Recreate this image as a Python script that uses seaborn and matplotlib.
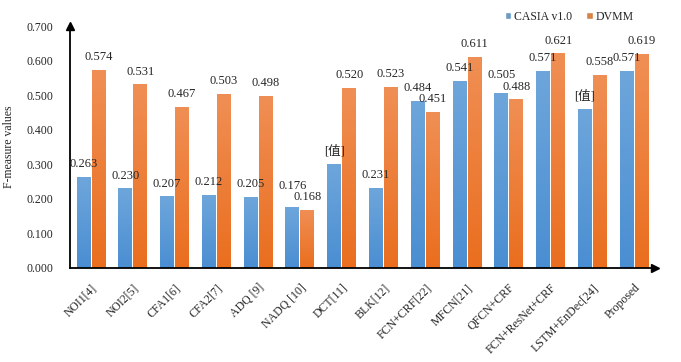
import numpy as np
import pandas as pd
import matplotlib
matplotlib.use("Agg")
import matplotlib.pyplot as plt
import seaborn as sns
from matplotlib.colors import LinearSegmentedColormap

methods = ["NOI1[4]", "NOI2[5]", "CFA1[6]", "CFA2[7]", "ADQ [9]", "NADQ [10]",
           "DCT[11]", "BLK[12]", "FCN+CRF[22]", "MFCN[21]", "QFCN+CRF",
           "FCN+ResNet+CRF", "LSTM+EnDec[24]", "Proposed"]
casia = [0.263, 0.230, 0.207, 0.212, 0.205, 0.176, 0.301, 0.231, 0.484,
         0.541, 0.505, 0.571, 0.460, 0.571]
dvmm = [0.574, 0.531, 0.467, 0.503, 0.498, 0.168, 0.520, 0.523, 0.451,
        0.611, 0.488, 0.621, 0.558, 0.619]
# two CASIA labels were left as placeholders in the original figure
casia_labels = ["0.263", "0.230", "0.207", "0.212", "0.205", "0.176", "[值]",
                "0.231", "0.484", "0.541", "0.505", "0.571", "[值]", "0.571"]
dvmm_labels = [f"{v:.3f}" for v in dvmm]
series = ["CASIA v1.0", "DVMM"]

df = pd.DataFrame({
    "method": methods * 2,
    "value": casia + dvmm,
    "dataset": [series[0]] * len(methods) + [series[1]] * len(methods),
})

sns.set_style("white")
plt.rcParams["font.family"] = ["Liberation Serif", "Noto Sans CJK SC"]

fig = plt.figure(figsize=(6.81, 3.62), dpi=100)
ax = fig.add_axes([0.103, 0.26, 0.859, 0.668])

colors = {"CASIA v1.0": "#5B9BD5", "DVMM": "#ED7D31"}
sns.barplot(data=df, x="method", y="value", hue="dataset", palette=colors,
            width=0.72, gap=0.07, ax=ax, legend=True)

# gradient fill like the office chart
grads = {
    "CASIA v1.0": LinearSegmentedColormap.from_list("b", ["#4A8ED2", "#6EA6DB"]),
    "DVMM": LinearSegmentedColormap.from_list("o", ["#EA6E1E", "#F08F55"]),
}
grad = np.linspace(0, 1, 256).reshape(-1, 1)
for cont, name in zip(ax.containers, series):
    for bar in cont:
        x0, y0 = bar.get_x(), bar.get_y()
        w, h = bar.get_width(), bar.get_height()
        im = ax.imshow(grad, cmap=grads[name], aspect="auto", origin="lower",
                       extent=[x0, x0 + w, y0, y0 + h], zorder=bar.get_zorder())
        im.set_clip_path(bar)
        bar.set_facecolor("none")
        bar.set_edgecolor("none")

ax.set_xlim(-0.5, 13.5)
ax.set_ylim(0, 0.7)

# value labels, nudging the taller one up when a pair would collide
off, min_sep = 0.037, 0.033
for b1, b2, l1, l2 in zip(ax.containers[0], ax.containers[1],
                          casia_labels, dvmm_labels):
    y1 = b1.get_height() + off
    y2 = b2.get_height() + off
    if abs(y1 - y2) < min_sep:
        if y1 >= y2:
            y1 = y2 + min_sep
        else:
            y2 = y1 + min_sep
    ax.text(b1.get_x() + b1.get_width() / 2, y1, l1, ha="center", va="center",
            fontsize=9)
    ax.text(b2.get_x() + b2.get_width() / 2, y2, l2, ha="center", va="center",
            fontsize=9)

ax.set_yticks(np.arange(0, 0.71, 0.1))
ax.set_yticklabels([f"{t:.3f}" for t in np.arange(0, 0.71, 0.1)], fontsize=8.5)
ax.tick_params(axis="y", pad=12, length=0)
ax.tick_params(axis="x", length=0, pad=10)
plt.setp(ax.get_xticklabels(), rotation=45, ha="right", rotation_mode="anchor",
         fontsize=8.5)
ax.set_xlabel("")
ax.set_ylabel("F-measure values", fontsize=8.5)
ax.yaxis.set_label_coords(-0.094, 0.5)

for s in ["top", "right"]:
    ax.spines[s].set_visible(False)
for s in ["left", "bottom"]:
    ax.spines[s].set_color("black")
    ax.spines[s].set_linewidth(1.3)
# arrow heads on the axes
ax.plot(1, 0, ">k", transform=ax.transAxes, clip_on=False, markersize=6)
ax.plot(0, 1, "^k", transform=ax.transAxes, clip_on=False, markersize=6)

handles, labels = ax.get_legend_handles_labels()
ax.legend(handles, labels, loc="lower right", bbox_to_anchor=(0.972, 0.995),
          ncol=2, frameon=False, fontsize=8.5, handlelength=0.55,
          handleheight=0.55, handletextpad=0.25, columnspacing=1.2,
          borderaxespad=0)

fig.savefig("out.png", dpi=100)
